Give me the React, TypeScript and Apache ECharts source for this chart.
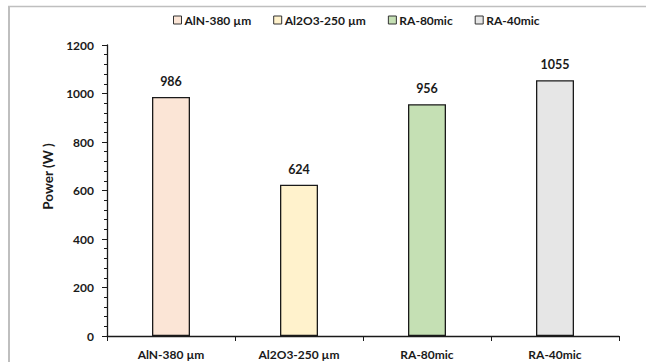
import React, { useEffect, useRef } from "react";
import * as echarts from "echarts";

const categories = ["AlN-380 µm", "Al2O3-250 µm", "RA-80mic", "RA-40mic"];
const powerValues = [986, 624, 956, 1055];
const barColors = ["#fbe5d6", "#fff2cc", "#c5e0b4", "#e6e6e6"];
const yTicks = { min: 0, max: 1200, interval: 200 };

const FONT = "Lato, 'Open Sans', sans-serif";

export default function App() {
  const ref = useRef<HTMLDivElement>(null);

  useEffect(() => {
    if (!ref.current) return;
    const chart = echarts.init(ref.current, undefined, { renderer: "svg" });

    const series = categories.map((name, i) => ({
      name,
      type: "bar" as const,
      stack: "power",
      barWidth: 38,
      data: categories.map((_, j) => (j === i ? powerValues[j] : "-")),
      itemStyle: { color: barColors[i], borderColor: "#1a1a1a", borderWidth: 1.3 },
      label: {
        show: true,
        position: "top" as const,
        distance: 9,
        fontFamily: FONT,
        fontWeight: "bold" as const,
        fontSize: 12.5,
        color: "#1a1a1a",
      },
    }));

    chart.setOption({
      animation: false,
      backgroundColor: "#ffffff",
      textStyle: { fontFamily: FONT },
      legend: {
        top: 9,
        left: 168,
        itemGap: 22,
        itemWidth: 8,
        itemHeight: 8,
        icon: "rect",
        textStyle: { fontFamily: FONT, fontWeight: "bold", fontSize: 12, color: "#1a1a1a", padding: [0, 0, 0, -2] },
        data: categories.map((name, i) => ({
          name,
          itemStyle: { color: barColors[i], borderColor: "#333", borderWidth: 1 },
        })),
      },
      grid: { left: 107, right: 27, top: 45, bottom: 26 },
      xAxis: {
        type: "category",
        data: categories,
        axisLine: { lineStyle: { color: "#1a1a1a", width: 1.3 } },
        axisTick: { show: true, alignWithLabel: false, length: 5, lineStyle: { color: "#1a1a1a" } },
        axisLabel: {
          fontFamily: FONT,
          fontWeight: "bold",
          fontSize: 12,
          color: "#1a1a1a",
          margin: 12,
        },
      },
      yAxis: {
        type: "value",
        min: yTicks.min,
        max: yTicks.max,
        interval: yTicks.interval,
        name: "Power (W )",
        nameLocation: "middle",
        nameGap: 52,
        nameTextStyle: {
          fontFamily: FONT,
          fontWeight: "bold",
          fontSize: 13.5,
          color: "#1a1a1a",
          padding: [0, 0, 0, 28],
        },
        axisLine: { show: true, lineStyle: { color: "#1a1a1a", width: 1.3 } },
        axisTick: { show: true, inside: false, length: 5, lineStyle: { color: "#1a1a1a" } },
        minorTick: { show: true, splitNumber: 5, length: 3, lineStyle: { color: "#1a1a1a" } },
        splitLine: { show: false },
        axisLabel: {
          fontFamily: FONT,
          fontWeight: "bold",
          fontSize: 12,
          color: "#1a1a1a",
          margin: 13,
          formatter: (v: number) => String(v),
        },
      },
      graphic: [
        {
          type: "line",
          shape: { x1: 9, y1: 6, x2: 9, y2: 362 },
          style: { stroke: "#bfbfbf", lineWidth: 2 },
          silent: true,
        },
        {
          type: "line",
          shape: { x1: 8, y1: 6.5, x2: 646, y2: 6.5 },
          style: { stroke: "#bfbfbf", lineWidth: 1.5 },
          silent: true,
        },
      ],
      series,
    });

    return () => chart.dispose();
  }, []);

  return (
    <div
      ref={ref}
      style={{ position: "fixed", left: 0, top: 0, width: 646, height: 362, background: "#fff" }}
    />
  );
}
